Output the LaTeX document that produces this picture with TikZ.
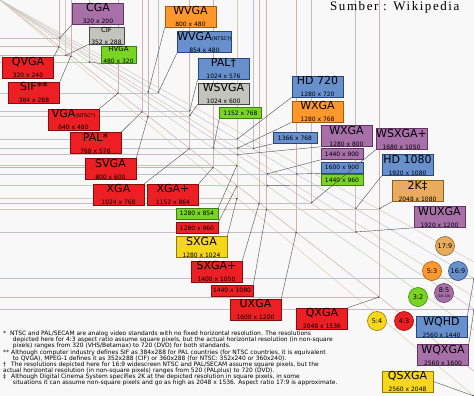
\documentclass[tikz,border=0pt]{standalone}
\usepackage{fontspec}
\setmainfont{DejaVu Sans}
\newfontfamily\titlefont[LetterSpace=12]{Liberation Serif}
\usetikzlibrary{arrows.meta}

\definecolor{vred}{RGB}{236,32,36}
\definecolor{vredd}{RGB}{140,10,10}
\definecolor{vpurple}{RGB}{168,112,168}
\definecolor{vpurpled}{RGB}{100,50,100}
\definecolor{vblue}{RGB}{104,144,204}
\definecolor{vblued}{RGB}{40,70,130}
\definecolor{vorange}{RGB}{255,152,44}
\definecolor{voranged}{RGB}{170,90,10}
\definecolor{vgreen}{RGB}{122,212,36}
\definecolor{vgreend}{RGB}{60,130,10}
\definecolor{vyellow}{RGB}{246,216,26}
\definecolor{vyellowd}{RGB}{150,120,0}
\definecolor{vgray}{RGB}{196,196,190}
\definecolor{vgrayd}{RGB}{70,70,70}
\definecolor{vtan}{RGB}{232,172,92}
\definecolor{vtand}{RGB}{140,95,40}
\definecolor{bgpaper}{RGB}{248,248,248}

\newcommand\bname[1]{{\fontsize{11}{11}\selectfont #1}}
\newcommand\mname[1]{{\fontsize{7}{7}\selectfont #1}}
\newcommand\bres[1]{{\fontsize{6}{6}\selectfont #1}}
\newcommand\tagnote[1]{{\fontsize{5}{5}\selectfont #1}}

\begin{document}
\begin{tikzpicture}[x=1pt, y=-1pt,
	stdbox/.style={ draw=#1d, fill=#1, line width=0.6pt, inner sep=0pt, minimum width=51pt, minimum height=21pt, align=center },
	midbox/.style={ stdbox=#1, minimum width=35pt, minimum height=17pt },
	smallbox/.style={ stdbox=#1, minimum width=42pt, minimum height=11pt, font=\fontsize{6}{6}\selectfont },
	ratio/.style={ circle, draw=#1d, fill=#1, line width=0.6pt, inner sep=0pt, minimum size=19pt, align=center, font=\fontsize{6.5}{6.5}\selectfont },
	gridline/.style={ draw=#1!30!gray!50!white, line width=0.5pt },
	diag/.style={ draw=#1!45!gray!50!white, line width=0.5pt },
	conn/.style={ draw=black!70, line width=0.4pt, -{Circle[length=1.6pt]} },
	notes/.style={ anchor=north west, align=left, inner sep=0pt, font=\fontsize{5.95}{6.1}\selectfont }
]

\useasboundingbox (0,0) rectangle (474,396);
\fill[bgpaper] (0,0) rectangle (474,396);

% plane of width x height, 2560 x 2048 fills the picture
\begin{scope}[xscale=0.18516, yscale=0.19336]
\foreach \w/\h/\c in {2560/1920/vred, 2560/2048/vyellow, 2560/1707/vgreen, 2560/1600/vpurple, 2560/1536/vorange, 2560/1440/vblue, 2560/1355/vtan}
	\draw[diag=\c] (0,0) -- (\w,\h);
\foreach \w/\h/\c in {320/200/vpurple, 320/240/vred, 352/288/vgray, 384/288/vred, 480/320/vgreen,
	640/480/vred, 768/576/vred, 800/480/vorange, 800/600/vred, 854/480/vblue, 1024/576/vblue,
	1024/600/vgray, 1024/768/vred, 1152/768/vgreen, 1152/864/vred, 1280/720/vblue, 1280/768/vorange,
	1280/800/vpurple, 1280/854/vgreen, 1280/960/vred, 1280/1024/vyellow, 1366/768/vblue,
	1400/1050/vred, 1440/900/vpurple, 1440/960/vgreen, 1440/1080/vred, 1600/900/vblue,
	1600/1200/vred, 1680/1050/vpurple, 1920/1080/vblue, 1920/1200/vpurple, 2048/1080/vtan,
	2048/1536/vred, 2560/1440/vblue, 2560/1600/vpurple, 2560/2048/vyellow}{
	\draw[gridline=\c] (\w,0) -- (\w,\h) -- (0,\h);
	\coordinate (p\w-\h) at (\w,\h);
}
\end{scope}

% labels above and right of their corners
\node at (98,13.5) (cga) [stdbox=vpurple] {\bname{CGA}\\\bres{320 x 200}};
\node at (106.5,35.5) (cif) [midbox=vgray] {\mname{CIF}\\\bres{352 x 288}};
\node at (118.5,54.5) (hvga) [midbox=vgreen] {\mname{HVGA}\\\bres{480 x 320}};
\node at (190.5,16.5) (wvga) [stdbox=vorange] {\bname{WVGA}\\\bres{800 x 480}};
\node at (204.5,42) (wvgan) [stdbox=vblue] {\bname{WVGA}\tagnote{(NTSC†)}\\\bres{854 x 480}};
\node at (223.5,68.5) (palw) [stdbox=vblue] {\bname{PAL†}\\\bres{1024 x 576}};
\node at (223.5,93.5) (wsvga) [stdbox=vgray] {\bname{WSVGA}\\\bres{1024 x 600}};
\node at (240.5,113) (s1152x768) [smallbox=vgreen] {1152 x 768};
\node at (317.5,86.5) (hd720) [stdbox=vblue] {\bname{HD 720}\\\bres{1280 x 720}};
\node at (317.5,111.5) (wxgao) [stdbox=vorange] {\bname{WXGA}\\\bres{1280 x 768}};
\node at (295,138) (s1366x768) [smallbox=vblue, minimum width=44pt] {1366 x 768};
\node at (346.5,136) (wxgap) [stdbox=vpurple] {\bname{WXGA}\\\bres{1280 x 800}};
\node at (342,154) (s1440x900) [smallbox=vpurple] {1440 x 900};
\node at (342,167.5) (s1600x900) [smallbox=vblue] {1600 x 900};
\node at (342,180) (s1440x960) [smallbox=vgreen] {1440 x 960};
\node at (401.5,139) (wsxgap) [stdbox=vpurple] {\bname{WSXGA+}\\\bres{1680 x 1050}};
\node at (407.5,165) (hd1080) [stdbox=vblue] {\bname{HD 1080}\\\bres{1920 x 1080}};
\node at (417.5,191) (twok) [stdbox=vtan] {\bname{2K‡}\\\bres{2048 x 1080}};
\node at (439.5,217) (wuxga) [stdbox=vpurple] {\bname{WUXGA}\\\bres{1920 x 1200}};

% labels below and left of their corners
\node at (28,67.5) (qvga) [stdbox=vred] {\bname{QVGA}\\\bres{320 x 240}};
\node at (34,92.5) (sif) [stdbox=vred] {\bname{SIF**}\\\bres{384 x 288}};
\node at (73.5,119.5) (vga) [stdbox=vred] {\bname{VGA}\tagnote{(NTSC*)}\\\bres{640 x 480}};
\node at (95.5,143) (pals) [stdbox=vred] {\bname{PAL*}\\\bres{768 x 576}};
\node at (110.5,169) (svga) [stdbox=vred] {\bname{SVGA}\\\bres{800 x 600}};
\node at (118.5,194.5) (xga) [stdbox=vred] {\bname{XGA}\\\bres{1024 x 768}};
\node at (173,194.5) (xgap) [stdbox=vred] {\bname{XGA+}\\\bres{1152 x 864}};
\node at (197,213.5) (s1280x854) [smallbox=vgreen] {1280 x 854};
\node at (197,228) (s1280x960) [smallbox=vred] {1280 x 960};
\node at (201.5,247) (sxga) [stdbox=vyellow] {\bname{SXGA}\\\bres{1280 x 1024}};
\node at (216.5,271.5) (sxgap) [stdbox=vred] {\bname{SXGA+}\\\bres{1400 x 1050}};
\node at (232,290.5) (s1440x1080) [smallbox=vred] {1440 x 1080};
\node at (255.5,309.5) (uxga) [stdbox=vred] {\bname{UXGA}\\\bres{1600 x 1200}};
\node at (322,318.5) (qxga) [stdbox=vred] {\bname{QXGA}\\\bres{2048 x 1536}};
\node at (441.5,327) (wqhd) [stdbox=vblue] {\bname{WQHD}\\\bres{2560 x 1440}};
\node at (443,355) (wqxga) [stdbox=vpurple] {\bname{WQXGA}\\\bres{2560 x 1600}};
\node at (407.5,381.5) (qsxga) [stdbox=vyellow] {\bname{QSXGA}\\\bres{2560 x 2048}};

\draw[conn] (cga.south west) to (p320-200);
\draw[conn] (cif.south west) to (p352-288);
\draw[conn] (hvga.south west) to (p480-320);
\draw[conn] (wvga.south west) to (p800-480);
\draw[conn] (wvgan.south west) to (p854-480);
\draw[conn] (palw.south west) to (p1024-576);
\draw[conn] (wsvga.south west) to (p1024-600);
\draw[conn] (s1152x768.south west) to (p1152-768);
\draw[conn] (hd720.south west) to (p1280-720);
\draw[conn] (wxgao.south west) to (p1280-768);
\draw[conn] (s1366x768.south west) to (p1366-768);
\draw[conn] (wxgap.south west) to (p1280-800);
\draw[conn] (s1440x900.south west) to (p1440-900);
\draw[conn] (s1600x900.south west) to (p1600-900);
\draw[conn] (s1440x960.south west) to (p1440-960);
\draw[conn] (wsxgap.south west) to (p1680-1050);
\draw[conn] (hd1080.south west) to (p1920-1080);
\draw[conn] (twok.south west) to (p2048-1080);
\draw[conn] (wuxga.south west) to (p1920-1200);
\draw[conn] (qvga.north east) to (p320-240);
\draw[conn] (sif.north east) to (p384-288);
\draw[conn] (vga.north east) to (p640-480);
\draw[conn] (pals.north east) to (p768-576);
\draw[conn] (svga.north east) to (p800-600);
\draw[conn] (xga.north east) to (p1024-768);
\draw[conn] (xgap.north east) to (p1152-864);
\draw[conn] (s1280x854.north east) to (p1280-854);
\draw[conn] (s1280x960.north east) to (p1280-960);
\draw[conn] (sxga.north east) to (p1280-1024);
\draw[conn] (sxgap.north east) to (p1400-1050);
\draw[conn] (s1440x1080.north east) to (p1440-1080);
\draw[conn] (uxga.north east) to (p1600-1200);
\draw[conn] (qxga.north east) to (p2048-1536);
\draw[conn] (wqhd.north east) to (p2560-1440);
\draw[conn] (wqxga.north east) to (p2560-1600);
\draw[conn] (qsxga.east) to (p2560-2048);

% aspect ratios
\node at (377,321) (r54) [ratio=vyellow] {5:4};
\node at (404,321) (r43) [ratio=vred] {4:3};
\node at (418,297) (r32) [ratio=vgreen] {3:2};
\node at (444,293) (r85) [ratio=vpurple] {8:5\\[-1.5pt]{\fontsize{3.5}{3.5}\selectfont(16:10)}};
\node at (432,271) (r53) [ratio=vorange] {5:3};
\node at (458,271) (r169) [ratio=vblue] {16:9};
\node at (445,246) (r179) [ratio=vtan] {17:9};

\node at (330,11) (source) [anchor=base west, inner sep=0pt, font=\titlefont\fontsize{13}{13}\selectfont] {Sumber : Wikipedia};

\node at (3,331) (footnotes) [notes] {%
\makebox[7pt][l]{*}NTSC and PAL/SECAM are analog video standards with no fixed horizontal resolution. The resolutions\\
\hspace*{9.7pt}depicted here for 4:3 aspect ratio assume square pixels, but the actual horizontal resolution (in non-square\\
\hspace*{9.7pt}pixels) ranges from 320 (VHS/Betamax) to 720 (DVD) for both standards.\\
\makebox[8pt][l]{**}Although computer industry defines SIF as 384x288 for PAL countries (for NTSC countries, it is equivalent\\
\hspace*{9.7pt}to QVGA), MPEG-1 defines it as 352x288 (CIF) or 360x288 (for NTSC: 352x240 or 360x240).\\
\makebox[8pt][l]{†}The resolutions depicted here for 16:9 widescreen NTSC and PAL/SECAM assume square pixels, but the\\
actual horizontal resolution (in non-square pixels) ranges from 520 (PALplus) to 720 (DVD).\\
\makebox[8pt][l]{‡}Although Digital Cinema System specifies 2K at the depicted resolution in square pixels, in some\\
\hspace*{9.7pt}situations it can assume non-square pixels and go as high as 2048 x 1536. Aspect ratio 17:9 is approximate.};

\end{tikzpicture}
\end{document}
